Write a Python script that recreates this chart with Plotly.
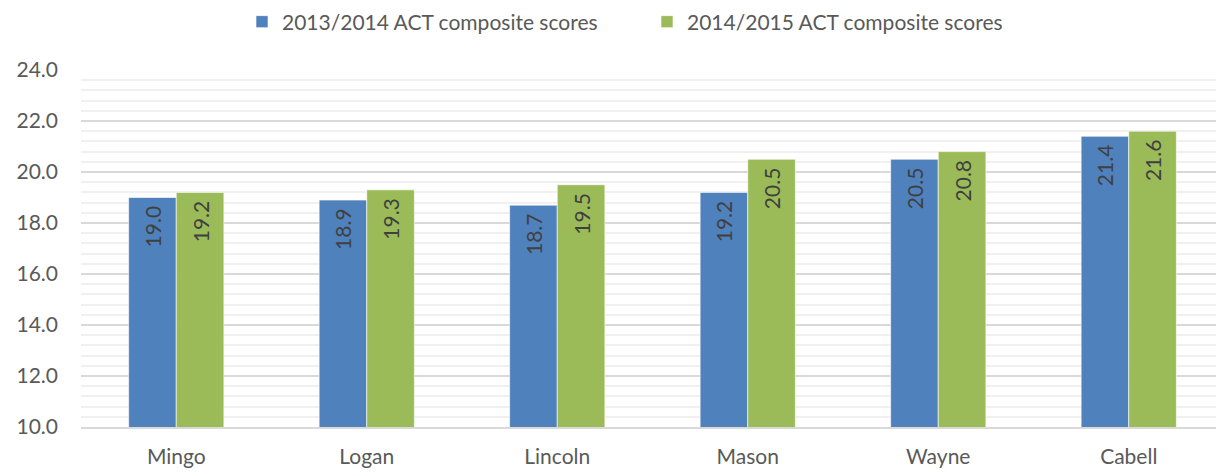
import plotly.graph_objects as go

counties = ["Mingo", "Logan", "Lincoln", "Mason", "Wayne", "Cabell"]
scores_2013_2014 = [19.0, 18.9, 18.7, 19.2, 20.5, 21.4]
scores_2014_2015 = [19.2, 19.3, 19.5, 20.5, 20.8, 21.6]
series_names = ["2013/2014 ACT composite scores", "2014/2015 ACT composite scores"]
series_colors = ["#4f81bd", "#9bbb59"]

FONT = "Lato"
TEXT_GREY = "#595959"

# the page body has an 8px margin, so the figure is sized to fill the window
W, H = 1216, 466

fig = go.Figure()
for name, vals, color in zip(series_names, [scores_2013_2014, scores_2014_2015], series_colors):
    fig.add_trace(go.Bar(
        x=counties,
        y=vals,
        name=name,
        marker=dict(color=color, line=dict(color="rgba(255,255,255,0.6)", width=1)),
        texttemplate="%{y:.1f}\u00a0",
        textposition="inside",
        insidetextanchor="end",
        textangle=-90,
        textfont=dict(family=FONT, size=21, color="#404040"),
        hoverinfo="skip",
    ))

fig.update_layout(
    width=W,
    height=H,
    barmode="group",
    bargap=0.5,
    bargroupgap=0,
    plot_bgcolor="white",
    paper_bgcolor="white",
    margin=dict(l=73, r=0, t=62, b=47, autoexpand=False),
    font=dict(family=FONT, size=21, color=TEXT_GREY),
    legend=dict(
        orientation="h",
        xref="container",
        yref="container",
        x=234 / W,
        xanchor="left",
        y=1 - 14 / H,
        yanchor="middle",
        font=dict(family=FONT, size=21, color=TEXT_GREY),
        itemwidth=30,
        entrywidth=360,
    ),
    xaxis=dict(
        showgrid=False,
        showline=True,
        linecolor="#d9d9d9",
        linewidth=1.5,
        ticks="",
        ticklabelstandoff=10,
        tickfont=dict(family=FONT, size=21, color=TEXT_GREY),
    ),
    yaxis=dict(
        range=[10, 24],
        dtick=2,
        tick0=10,
        tickformat=".1f",
        showgrid=True,
        gridcolor="#d9d9d9",
        gridwidth=1.5,
        zeroline=False,
        ticks="",
        ticklabelstandoff=22,
        tickfont=dict(family=FONT, size=21, color=TEXT_GREY),
        minor=dict(dtick=0.4, showgrid=True, gridcolor="#f0f0f0", gridwidth=1.5),
    ),
)

fig.write_html("out.html")
